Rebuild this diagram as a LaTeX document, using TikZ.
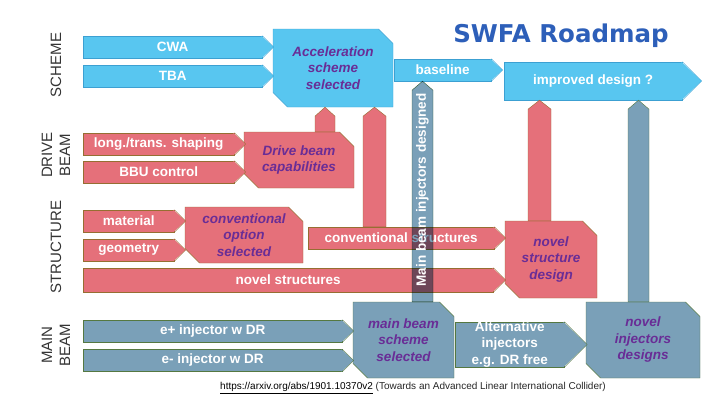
\documentclass[tikz,border=0pt]{standalone}
\usepackage{fontspec}
\setmainfont{Liberation Sans}
\newfontfamily\titlefont{DejaVu Sans}
\usepackage{tikz}
\usetikzlibrary{shapes.misc,calc}

\definecolor{skyfill}{RGB}{88,198,240}
\definecolor{skyline}{RGB}{60,160,210}
\definecolor{rosefill}{RGB}{229,112,122}
\definecolor{roseline}{RGB}{150,110,50}
\definecolor{steelfill}{RGB}{122,160,184}
\definecolor{steelline}{RGB}{85,120,65}
\definecolor{boxtext}{RGB}{105,45,150}
\definecolor{titleblue}{RGB}{45,95,185}

% flecha vertical entre dos nodos: estilo, x, media anchura, nodo inferior, nodo superior
\newcommand{\upbar}[5]{%
  \draw[#1] let \p1=(#4.north), \p2=(#5.south) in
    (#2pt-#3pt,\y1) -- (#2pt-#3pt,\y2-9pt) -- (#2pt,\y2)
    -- (#2pt+#3pt,\y2-9pt) -- (#2pt+#3pt,\y1) -- cycle;}

\begin{document}
\begin{tikzpicture}[x=1pt,y=-1pt,
    tag/.style={rectangle, anchor=west, inner sep=0pt, minimum height=22pt,
      text=white, font=\bfseries\fontsize{13.5}{16.5}\selectfont},
    sky/.style={fill=skyfill, draw=skyline},
    rose/.style={fill=rosefill, draw=roseline},
    steel/.style={fill=steelfill, draw=steelline},
    goal/.style={chamfered rectangle, chamfered rectangle corners={north east,south west},
      chamfered rectangle xsep=11pt, inner sep=0pt, align=center, text=boxtext,
      font=\bfseries\itshape\fontsize{13.5}{16.5}\selectfont},
    side/.style={rotate=90, align=center, text=black!80,
      font=\fontsize{15}{18}\selectfont}]
    \useasboundingbox (0,0) rectangle (720,405);

    % Etiquetas laterales
    \node[side] (scheme) at (56,65) {SCHEME};
    \node[side] (drivebeam) at (56,155) {DRIVE\\BEAM};
    \node[side] (structure) at (56,247) {STRUCTURE};
    \node[side] (mainbeam) at (56,345) {MAIN\\BEAM};

    % Titulo
    \node[text=titleblue, font=\titlefont\bfseries\fontsize{24.5}{28}\selectfont]
      (title) at (561,36) {SWFA Roadmap};

    % Esquema
    \node[tag, sky, minimum width=179pt] (cwa) at (83,47) {CWA};
    \node[tag, sky, minimum width=179pt] (tba) at (83,76) {TBA};
    \node[goal, sky, minimum width=120pt, minimum height=78pt] (acc) at (333,68)
      {Acceleration\\scheme\\selected};
    \node[tag, sky, minimum width=97pt] (base) at (394,70) {baseline};
    \node[tag, sky, minimum height=38pt, minimum width=178pt] (impr) at (504,81) {improved design ?};

    % Haz de arrastre
    \node[tag, rose, minimum width=151pt] (shaping) at (83,144) {long./trans. shaping};
    \node[tag, rose, minimum width=151pt] (bbu) at (83,172) {BBU control};
    \node[goal, rose, minimum width=110pt, minimum height=56pt] (drive) at (299,160)
      {Drive beam\\capabilities};

    % Estructuras
    \node[tag, rose, minimum width=91pt] (material) at (83,221) {material};
    \node[tag, rose, minimum width=91pt] (geometry) at (83,250) {geometry};
    \node[goal, rose, minimum width=118pt, minimum height=56pt] (convopt) at (244,235)
      {conventional\\option\\selected};
    \node[tag, rose, minimum width=186pt] (convstr) at (308,238) {conventional structures};
    \node[tag, rose, minimum height=24pt, minimum width=410pt] (novstr) at (83,280) {novel structures};
    \node[goal, rose, minimum width=92pt, minimum height=77pt] (nsd) at (551,259.5)
      {novel\\structure\\design};

    % Haz principal
    \node[tag, steel, minimum width=259pt] (eplus) at (83,331) {e+ injector w DR};
    \node[tag, steel, minimum width=259pt] (eminus) at (83,360.5) {e- injector w DR};
    \node[goal, steel, minimum width=101pt, minimum height=76pt] (mbs) at (403.5,340)
      {main beam\\scheme\\selected};
    \node[tag, steel, align=center, text height=42pt, text depth=3pt,
      minimum width=109pt] (alt) at (455,344.5) {Alternative\\injectors\\e.g. DR free};
    \node[goal, steel, minimum width=114pt, minimum height=76pt] (nid) at (643,340)
      {novel\\injectors\\designs};

    % Puntas de las etiquetas
    \foreach \n/\s in {cwa/sky, tba/sky, base/sky, impr/sky, shaping/rose, bbu/rose,
        material/rose, geometry/rose, convstr/rose, novstr/rose,
        eplus/steel, eminus/steel, alt/steel} {
      \fill[\s, draw=none] ([xshift=-1pt]\n.north east)
        -- ($(\n.east)!1!-90:(\n.north east)$) -- ([xshift=-1pt]\n.south east) -- cycle;
      \draw[\s, fill=none] (\n.north east)
        -- ($(\n.east)!1!-90:(\n.north east)$) -- (\n.south east);
    }

    % Flechas verticales
    \upbar{rose}{325}{10}{drive}{acc}
    \upbar{rose}{374.5}{11.5}{convstr}{acc}
    \upbar{rose}{539.5}{11.5}{nsd}{impr}
    \upbar{steel}{638.5}{10.5}{nid}{impr}
    \upbar{steel, blend mode=multiply}{422.5}{10.5}{mbs}{base}
    \node[rotate=90, text=white, font=\bfseries\fontsize{13.5}{16.5}\selectfont]
      (mbtext) at (422.5,190) {Main beam injectors designed};

    % Referencia
    \node[anchor=west, inner sep=0pt, text=black!85, font=\fontsize{10}{12}\selectfont]
      (ref) at (220,388) {\textcolor{black}{\underline{https://arxiv.org/abs/1901.10370v2}}
      (Towards an Advanced Linear International Collider)};
\end{tikzpicture}
\end{document}
